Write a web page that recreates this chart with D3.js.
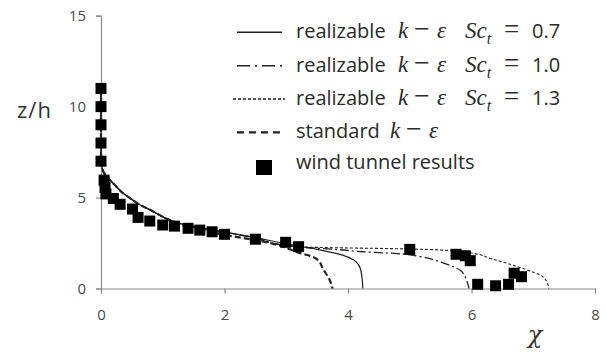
<!DOCTYPE html>
<html>
<head>
<meta charset="utf-8">
<script src="https://cdn.jsdelivr.net/npm/d3@7"></script>
<style>
  html, body { margin: 0; padding: 0; background: #fff; }
  svg { display: block; }
</style>
</head>
<body>
<svg id="chart" width="606" height="352"></svg>
<script>
// Concentration profiles: chi versus z/h
const xTicks = [0, 2, 4, 6, 8];
const zTicks = [0, 5, 10, 15];

// realizable k-eps, Sc_t = 0.7  [chi, z/h]
const realizable07 = [
  [0, 11], [0, 7.2], [0.02, 6.6], [0.08, 6.2], [0.15, 5.95], [0.25, 5.6], [0.36, 5.23],
  [0.5, 4.9], [0.63, 4.6], [0.78, 4.35], [0.9, 4.13], [1.09, 3.8], [1.3, 3.55],
  [1.6, 3.33], [2.0, 3.1], [2.5, 2.8], [3.0, 2.45], [3.5, 2.15], [3.9, 1.85],
  [4.1, 1.55], [4.2, 1.1], [4.23, 0.5], [4.24, 0]
];
// realizable k-eps, Sc_t = 1.0
const realizable10 = [
  [0, 11], [0, 7.2], [0.02, 6.6], [0.08, 6.2], [0.15, 5.95], [0.25, 5.6], [0.36, 5.23],
  [0.5, 4.9], [0.63, 4.6], [0.78, 4.35], [0.9, 4.13], [1.09, 3.8], [1.3, 3.55],
  [1.6, 3.33], [2.0, 3.1], [2.5, 2.78], [2.9, 2.42], [3.3, 2.26], [3.8, 2.15],
  [4.25, 2.02], [4.8, 1.92], [5.17, 1.75], [5.49, 1.47], [5.7, 1.2], [5.82, 1.0],
  [5.93, 0.37], [5.96, 0]
];
// realizable k-eps, Sc_t = 1.3
const realizable13 = [
  [0, 11], [0, 7.2], [0.02, 6.6], [0.08, 6.2], [0.15, 5.95], [0.25, 5.6], [0.36, 5.23],
  [0.5, 4.9], [0.63, 4.6], [0.78, 4.35], [0.9, 4.13], [1.09, 3.8], [1.3, 3.55],
  [1.6, 3.33], [2.0, 3.1], [2.5, 2.78], [2.9, 2.42], [3.3, 2.28], [4.0, 2.23],
  [4.6, 2.2], [5.0, 2.17], [5.5, 2.12], [6.03, 1.93], [6.3, 1.66], [6.58, 1.38],
  [6.9, 1.02], [7.11, 0.74], [7.22, 0.37], [7.25, 0]
];
// standard k-eps
const standard = [
  [0, 11], [0, 7.2], [0.02, 6.6], [0.08, 6.2], [0.15, 5.95], [0.25, 5.6], [0.36, 5.23],
  [0.5, 4.9], [0.63, 4.6], [0.78, 4.35], [0.9, 4.13], [1.09, 3.8], [1.3, 3.55],
  [1.6, 3.3], [2.0, 2.95], [2.6, 2.6], [2.95, 2.3], [3.2, 1.97], [3.4, 1.78],
  [3.5, 1.6], [3.6, 1.05], [3.7, 0.5], [3.75, 0]
];
// wind tunnel measurements
const windTunnel = [
  [0, 11], [0, 10], [0, 9], [0, 8], [0, 7], [0.05, 5.96], [0.065, 5.55], [0.08, 5.2],
  [0.2, 4.95], [0.31, 4.63], [0.51, 4.37], [0.6, 3.91], [0.79, 3.71], [1.0, 3.49],
  [1.19, 3.43], [1.41, 3.31], [1.6, 3.21], [1.8, 3.12], [2.0, 2.98], [2.5, 2.71],
  [2.99, 2.54], [3.2, 2.3], [5.0, 2.15], [5.75, 1.88], [5.9, 1.8], [5.98, 1.53],
  [6.1, 0.23], [6.39, 0.15], [6.6, 0.23], [6.69, 0.84], [6.81, 0.65]
];

const seriesStyles = [
  { data: realizable07, dash: null, width: 1.2, label: "0.7" },
  { data: realizable10, dash: "9,3,2,3", width: 1.3, label: "1.0" },
  { data: realizable13, dash: "3,2", width: 1.1, label: "1.3" },
  { data: standard, dash: "6,3", width: 2.2, label: null }
];

const svg = d3.select("#chart");
const x = d3.scaleLinear().domain([0, 8]).range([101, 595]);
const y = d3.scaleLinear().domain([0, 15]).range([288.5, 15.7]);

const axisColor = "#8c8c8c";
const tickText = "#4a4a4a";

// axes
const xAxis = svg.append("g").attr("transform", `translate(0,${y(0)})`)
  .call(d3.axisBottom(x).tickValues(xTicks).tickSize(5).tickPadding(12).tickFormat(d3.format("d")));
const yAxis = svg.append("g").attr("transform", `translate(${x(0)},0)`)
  .call(d3.axisLeft(y).tickValues(zTicks).tickSize(5).tickPadding(10).tickFormat(d3.format("d")));
[xAxis, yAxis].forEach(g => {
  g.attr("font-size", 15).attr("font-family", "'Open Sans', sans-serif");
  g.select(".domain").attr("stroke", axisColor).attr("stroke-width", 1.2);
  g.selectAll(".tick line").attr("stroke", axisColor).attr("stroke-width", 1.2);
  g.selectAll(".tick text").attr("fill", tickText);
});
xAxis.selectAll(".tick text").attr("dy", "0.95em");

// axis titles
svg.append("text").attr("x", 17).attr("y", 118)
  .style("font-family", "'Open Sans', sans-serif").style("font-size", "22px")
  .style("letter-spacing", "1px").attr("fill", "#333").text("z/h");
svg.append("text").attr("x", 535).attr("y", 343).attr("text-anchor", "middle")
  .style("font-family", "'DejaVu Serif', serif").style("font-style", "italic").style("font-size", "24px")
  .attr("fill", "#333").text("χ");

// model curves
const line = d3.line().x(d => x(d[0])).y(d => y(d[1])).curve(d3.curveMonotoneY);
svg.append("g").selectAll("path").data(seriesStyles).join("path")
  .attr("d", s => line(s.data))
  .attr("fill", "none")
  .attr("stroke", "#222")
  .attr("stroke-width", s => s.width)
  .attr("stroke-dasharray", s => s.dash);

// measured points
const sq = 11;
svg.append("g").selectAll("rect").data(windTunnel).join("rect")
  .attr("x", d => x(d[0]) - sq / 2).attr("y", d => y(d[1]) - sq / 2)
  .attr("width", sq).attr("height", sq).attr("fill", "#000");

// legend
const legend = svg.append("g");
const rowY = [32.3, 65.7, 99, 132.3, 163.3];
const textX = 296;
const sans = "'Open Sans', sans-serif";
const serif = "'Liberation Serif', 'Times New Roman', serif";

seriesStyles.forEach((s, i) => {
  legend.append("line")
    .attr("x1", i === 2 ? 233 : 237).attr("x2", i === 2 ? 285 : 282)
    .attr("y1", rowY[i]).attr("y2", rowY[i])
    .attr("stroke", "#222").attr("stroke-width", s.width > 2 ? 2.2 : 1.6)
    .attr("stroke-dasharray", i === 1 ? "13,5,2,5" : i === 3 ? "7,5" : s.dash);

  const t = legend.append("text").attr("y", rowY[i] + 6).attr("fill", "#2a2a2a")
    .style("font-size", "20px");
  const word = s.label ? "realizable" : "standard";
  t.append("tspan").attr("x", textX).style("font-family", sans).text(word);
  const kx = s.label ? 398 : 390;
  t.append("tspan").attr("x", kx).style("font-family", serif).style("font-style", "italic")
    .style("font-size", "23px").text("k");
  t.append("tspan").attr("x", kx + 16).style("font-family", serif).style("font-size", "28px").text("−");
  t.append("tspan").attr("x", kx + 39).style("font-family", serif).style("font-style", "italic")
    .style("font-size", "23px").text("ε");
  if (s.label) {
    t.append("tspan").attr("x", 465).style("font-family", serif).style("font-style", "italic")
      .style("font-size", "23px").text("Sc");
    t.append("tspan").attr("dy", 6).style("font-family", serif).style("font-style", "italic")
      .style("font-size", "16px").text("t");
    t.append("tspan").attr("x", 504).attr("dy", -6).style("font-family", serif)
      .style("font-size", "27px").text("=");
    t.append("tspan").attr("x", 532).style("font-family", sans).text(s.label);
  }
});
legend.append("rect").attr("x", 256).attr("y", 160).attr("width", 16).attr("height", 15).attr("fill", "#000");
legend.append("text").attr("x", textX).attr("y", rowY[4] + 6).attr("fill", "#2a2a2a")
  .style("font-family", sans).style("font-size", "20px").text("wind tunnel results");
</script>
</body>
</html>
